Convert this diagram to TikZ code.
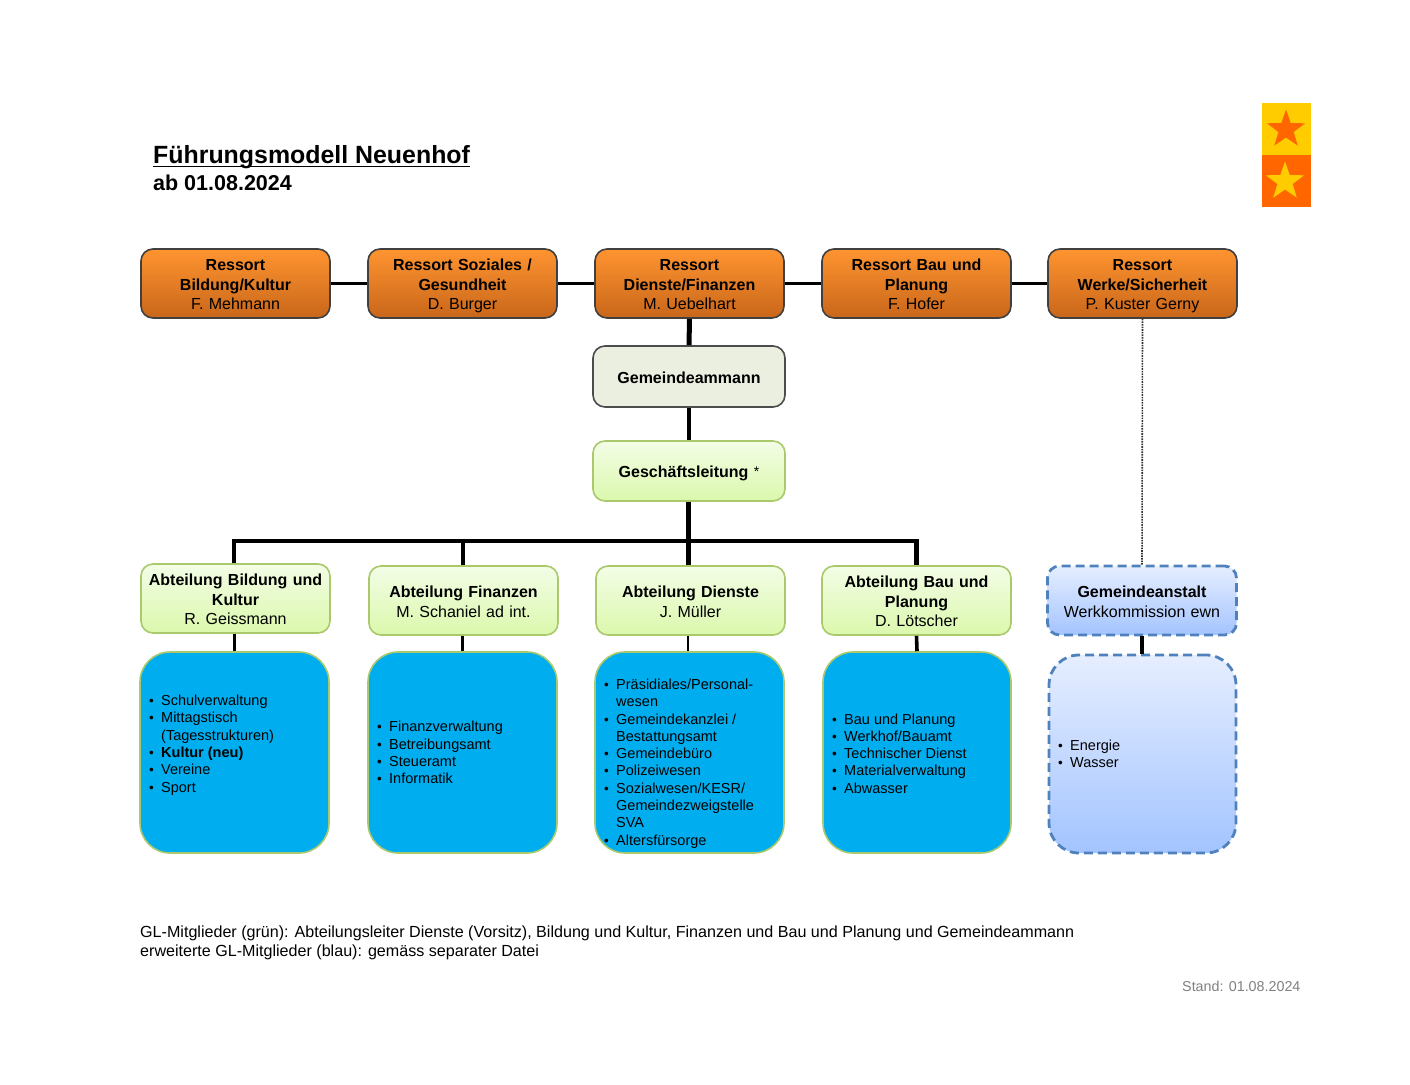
\documentclass[tikz,border=0pt]{standalone}
\usepackage{fontspec}
\setmainfont{Liberation Sans}
\usetikzlibrary{shapes.geometric,calc}
\definecolor{orT}{HTML}{FF9430}
\definecolor{orB}{HTML}{C8661A}
\definecolor{grT}{HTML}{F3FDE6}
\definecolor{grB}{HTML}{DBF8AC}
\definecolor{grL}{HTML}{A9C96C}
\definecolor{blT}{HTML}{E6EEFF}
\definecolor{blB}{HTML}{A3C4FF}
\definecolor{blL}{HTML}{4F81BD}
\definecolor{cyanbox}{HTML}{00AEEF}
\definecolor{gemF}{HTML}{EBEFDF}
\definecolor{stY}{HTML}{FFCC00}
\definecolor{stO}{HTML}{FF6600}
\newcommand{\bul}[1]{\makebox[12pt][l]{\fontsize{13.5}{13.5}\selectfont•}#1}
\newcommand{\cnt}[1]{\hspace*{12pt}#1}
\tikzset{
  x=1pt,y=-1pt,
  txt/.style={font=\fontsize{16}{19.5}\selectfont,align=center,text width=185pt,text=black,execute at begin node={\rule{0pt}{19.6pt}},execute at end node={\strut}},
  ressort/.style={txt,draw=black!75,line width=1.6pt,rounded corners=12pt,top color=orT,bottom color=orB,minimum width=189pt,minimum height=69pt,inner sep=0pt},
  gem/.style={txt,draw=black!70,line width=1.6pt,rounded corners=12pt,fill=gemF,minimum width=192pt,minimum height=61pt,inner sep=0pt},
  abt/.style={txt,draw=grL,line width=1.6pt,rounded corners=12pt,top color=grT,bottom color=grB,minimum width=189pt,minimum height=69pt,inner sep=0pt},
  anst/.style={txt,draw=blL,line width=2.8pt,dash pattern=on 9pt off 5pt,rounded corners=12pt,top color=blT,bottom color=blB,minimum width=189pt,minimum height=69pt,inner sep=0pt},
  body/.style={draw=grL,line width=1.6pt,rounded corners=30pt,fill=cyanbox,minimum width=189pt,minimum height=201pt,inner sep=0pt},
  bodyb/.style={draw=blL,line width=2.8pt,dash pattern=on 9pt off 5pt,rounded corners=30pt,top color=blT,bottom color=blB,minimum width=187pt,minimum height=198pt,inner sep=0pt},
  btxt/.style={anchor=west,inner sep=0pt,align=left,text=black,font=\fontsize{14.5}{17.3}\selectfont},
  lnk/.style={black,line width=2.4pt},
  thick3/.style={black,line width=3.5pt},
  thick5/.style={black,line width=5pt},
  starshape/.style={star,star points=5,star point ratio=2.5,minimum size=40pt,inner sep=0pt},
  plain/.style={inner sep=0pt,anchor=base west,text=black},
}
\begin{document}
\begin{tikzpicture}
\useasboundingbox (0,0) rectangle (1410,1084);
% logo
\node[fill=stY,minimum width=49pt,minimum height=52pt,inner sep=0pt] (logoA) at (1286.5,129) {};
\node[fill=stO,minimum width=49pt,minimum height=52pt,inner sep=0pt] (logoB) at (1286.5,181) {};
\node[starshape,fill=stO] (starA) at (1286,129.5) {};
\node[starshape,fill=stY] (starB) at (1285,181.5) {};
% title
\node[plain,font=\bfseries\fontsize{24.9}{30}\selectfont] (title) at (153,163) {Führungsmodell Neuenhof};
\node[plain,font=\bfseries\fontsize{21.5}{26}\selectfont] (sub) at (153,190) {ab 01.08.2024};
\draw[black,line width=1.8pt] ($(title.base west)+(0,3.5)$) -- ($(title.base east)+(0,3.5)$);
% Ressorts
\node[ressort] (r1) at (235.5,283.5) {\textbf{Ressort}\\\textbf{Bildung/Kultur}\\F. Mehmann};
\node[ressort] (r2) at (462.5,283.5) {\textbf{Ressort Soziales /}\\\textbf{Gesundheit}\\D. Burger};
\node[ressort] (r3) at (689.5,283.5) {\textbf{Ressort}\\\textbf{Dienste/Finanzen}\\M. Uebelhart};
\node[ressort] (r4) at (916.5,283.5) {\textbf{Ressort Bau und}\\\textbf{Planung}\\F. Hofer};
\node[ressort] (r5) at (1142.5,283.5) {\textbf{Ressort}\\\textbf{Werke/Sicherheit}\\P. Kuster Gerny};
% centre
\node[gem] (gem) at (689,376.5) {\textbf{Gemeindeammann}};
\node[abt,minimum width=192pt,minimum height=60pt] (gl) at (689,471) {\textbf{Geschäftsleitung} {\fontsize{14}{14}\selectfont\raisebox{1pt}{*}}};
% Abteilungen
\node[abt] (a1) at (235.5,598.5) {\textbf{Abteilung Bildung und}\\\textbf{Kultur}\\R. Geissmann};
\node[abt] (a2) at (463.5,600.5) {\textbf{Abteilung Finanzen}\\M. Schaniel ad int.};
\node[abt] (a3) at (690.5,600.5) {\textbf{Abteilung Dienste}\\J. Müller};
\node[abt] (a4) at (916.5,600.5) {\textbf{Abteilung Bau und}\\\textbf{Planung}\\D. Lötscher};
\node[anst] (a5) at (1142,600.5) {\textbf{Gemeindeanstalt}\\Werkkommission ewn};
% bodies
\node[body] (b1) at (234.5,752.5) {};
\node[body] (b2) at (462.5,752.5) {};
\node[body] (b3) at (689.5,752.5) {};
\node[body,minimum width=188pt] (b4) at (917,752.5) {};
\node[bodyb] (b5) at (1142.5,754) {};
\node[btxt] (t1) at (149,745) {\bul{Schulverwaltung}\\\bul{Mittagstisch}\\\cnt{(Tagesstrukturen)}\\\bul{\textbf{Kultur (neu)}}\\\bul{Vereine}\\\bul{Sport}};
\node[btxt] (t2) at (377,752.5) {\bul{Finanzverwaltung}\\\bul{Betreibungsamt}\\\bul{Steueramt}\\\bul{Informatik}};
\node[btxt] (t3) at (604,763.5) {\bul{Präsidiales/Personal-}\\\cnt{wesen}\\\bul{Gemeindekanzlei /}\\\cnt{Bestattungsamt}\\\bul{Gemeindebüro}\\\bul{Polizeiwesen}\\\bul{Sozialwesen/KESR/}\\\cnt{Gemeindezweigstelle}\\\cnt{SVA}\\\bul{Altersfürsorge}};
\node[btxt] (t4) at (832,753.5) {\bul{Bau und Planung}\\\bul{Werkhof/Bauamt}\\\bul{Technischer Dienst}\\\bul{Materialverwaltung}\\\bul{Abwasser}};
\node[btxt] (t5) at (1058,753.5) {\bul{Energie}\\\bul{Wasser}};
% Connectors
\draw[lnk] (r1.east) -- (r2.west);
\draw[lnk] (r2.east) -- (r3.west);
\draw[lnk] (r3.east) -- (r4.west);
\draw[lnk] (r4.east) -- (r5.west);
\draw[thick5] (r3.south) -- (gem.north);
\draw[thick3] (gem.south) -- (gl.north);
\coordinate (bus) at (688,541);
\draw[thick5] ($(gl.south)+(-1,0)$) -- ($(a3.north)+(-2.5,0)$);
\draw[black,line width=3.4pt] ($(a1.north |- bus)+(-3.1,0)$) -- ($(a4.north |- bus)+(2.1,0)$);
\draw[black,line width=4pt] ($(a1.north)+(-1.5,0)$) -- ($(a1.north |- bus)+(-1.5,-1.5)$);
\draw[black,line width=4.5pt] ($(a2.north)+(-0.5,0)$) -- ($(a2.north |- bus)+(-0.5,0)$);
\draw[black,line width=4.5pt] (a4.north) -- (a4.north |- bus);
\draw[black!80,line width=1.6pt,densely dotted] (r5.south) -- (a5.north);
\draw[black,line width=3pt] ($(a1.south)+(-1.5,0)$) -- ($(b1.north)+(-0.5,0)$);
\draw[black,line width=2.2pt] ($(a2.south)+(-1,0)$) -- (b2.north);
\draw[black,line width=2.6pt] ($(a3.south)+(-2.5,0)$) -- ($(b3.north)+(-1.5,0)$);
\draw[black,line width=3.6pt] (a4.south) -- (b4.north);
\draw[black,line width=3.6pt] (a5.south) -- ($(b5.north)+(-0.5,0)$);
% footer
\node[plain,font=\fontsize{16.1}{19}\selectfont] (f1) at (140,937) {GL-Mitglieder (grün): Abteilungsleiter Dienste (Vorsitz), Bildung und Kultur, Finanzen und Bau und Planung und Gemeindeammann};
\node[plain,font=\fontsize{16.1}{19}\selectfont] (f2) at (140,956) {erweiterte GL-Mitglieder (blau): gemäss separater Datei};
\node[plain,font=\fontsize{14.3}{19}\selectfont,text=black!50] (st) at (1182,991.5) {Stand: 01.08.2024};
\end{tikzpicture}
\end{document}
